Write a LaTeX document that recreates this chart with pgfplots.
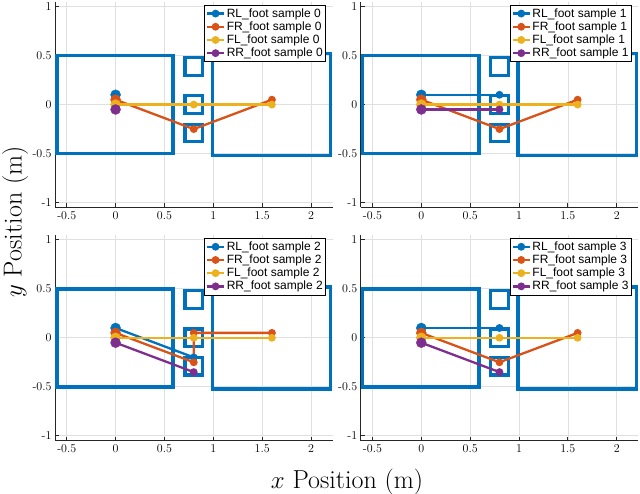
\documentclass[border=0pt]{standalone}
\usepackage{fontspec}
\usepackage{pgfplots}
\pgfplotsset{compat=1.18}
\newfontfamily\legfont{Liberation Sans}
\definecolor{mblue}{rgb}{0,0.447,0.741}
\definecolor{morange}{rgb}{0.85,0.325,0.098}
\definecolor{myellow}{rgb}{0.929,0.694,0.125}
\definecolor{mpurple}{rgb}{0.494,0.184,0.556}
\pgfplotsset{
  footaxis/.style={
    scale only axis, width=277.5pt, height=205.8pt,
    xmin=-0.62, xmax=2.22, ymin=-1.05, ymax=1.05,
    axis x line*=bottom, axis y line*=left,
    xtick={-0.5,0,0.5,1,1.5,2}, xticklabels={-0.5,0,0.5,1,1.5,2},
    ytick={-1,-0.5,0,0.5,1}, yticklabels={-1,-0.5,0,0.5,1},
    tick label style={font=\fontsize{12}{14}\selectfont, black},
    tick align=inside, major tick length=4pt,
    tick style={black!85, line width=0.8pt},
    axis line style={black!85, line width=0.8pt},
    grid=major, grid style={black!12, line width=0.6pt},
    legend cell align=left,
    legend style={at={(0.9755,0.986)}, anchor=north east, draw=black, line width=0.8pt,
      fill=white, font=\legfont\fontsize{12}{14}\selectfont,
      inner xsep=1pt, inner ysep=2pt, nodes={inner sep=1.5pt, text depth=0.15em}},
  },
  boxst/.style={mblue, line width=3.5pt, line cap=rect, line join=miter, mark=none, forget plot},
  footline/.style={line width=2.3pt, mark=*, mark size=2.7pt, mark options={solid}},
  startmark/.style={only marks, mark=*, mark size=5pt, forget plot},
}
\newcommand{\boxes}{%
  \addplot[boxst] coordinates {(-0.6,-0.5)(0.59,-0.5)(0.59,0.5)(-0.6,0.5)(-0.6,-0.5)};
  \addplot[boxst] coordinates {(0.99,-0.52)(2.2,-0.52)(2.2,0.52)(0.99,0.52)(0.99,-0.52)};
  \addplot[boxst, line width=3.2pt] coordinates {(0.71,0.30)(0.89,0.30)(0.89,0.48)(0.71,0.48)(0.71,0.30)};
  \addplot[boxst, line width=3.2pt] coordinates {(0.71,-0.09)(0.89,-0.09)(0.89,0.09)(0.71,0.09)(0.71,-0.09)};
  \addplot[boxst, line width=3.2pt] coordinates {(0.71,-0.38)(0.89,-0.38)(0.89,-0.20)(0.71,-0.20)(0.71,-0.38)};
}
\newcommand{\foot}[4]{%
  \addplot[footline, color=#1] coordinates {#2 #3};
  \addlegendentry{#4}
  \addplot[startmark, color=#1] coordinates {#2};
}
\begin{document}
\begin{tikzpicture}[x=1pt,y=1pt]
\path[use as bounding box] (0,0) rectangle (640,494);
% sample 0
\begin{axis}[footaxis, at={(55pt,286.5pt)}, anchor=south west]
\boxes
\foot{mblue}{(0,0.1)}{}{RL\_foot sample 0}
\foot{morange}{(0,0.05)}{(0.8,-0.25)(1.6,0.05)}{FR\_foot sample 0}
\foot{myellow}{(0,0)}{(0.8,0)(1.6,0)}{FL\_foot sample 0}
\foot{mpurple}{(0,-0.05)}{}{RR\_foot sample 0}
\end{axis}
% sample 1
\begin{axis}[footaxis, at={(360.7pt,286.5pt)}, anchor=south west]
\boxes
\foot{mblue}{(0,0.1)}{(0.8,0.1)}{RL\_foot sample 1}
\foot{morange}{(0,0.05)}{(0.8,-0.25)(1.6,0.05)}{FR\_foot sample 1}
\foot{myellow}{(0,0)}{(0.8,0)(1.6,0)}{FL\_foot sample 1}
\foot{mpurple}{(0,-0.05)}{(0.8,-0.05)}{RR\_foot sample 1}
\end{axis}
% sample 2
\begin{axis}[footaxis, at={(55pt,53.3pt)}, anchor=south west]
\boxes
\foot{mblue}{(0,0.1)}{(0.8,-0.2)}{RL\_foot sample 2}
\foot{morange}{(0,0.05)}{(0.8,-0.25)(0.8,0.05)(1.6,0.05)}{FR\_foot sample 2}
\foot{myellow}{(0,0)}{(0.8,0)(1.6,0)}{FL\_foot sample 2}
\foot{mpurple}{(0,-0.05)}{(0.8,-0.35)}{RR\_foot sample 2}
\end{axis}
% sample 3
\begin{axis}[footaxis, at={(360.7pt,53.3pt)}, anchor=south west]
\boxes
\foot{mblue}{(0,0.1)}{(0.8,0.1)}{RL\_foot sample 3}
\foot{morange}{(0,0.05)}{(0.8,-0.25)(1.6,0.05)}{FR\_foot sample 3}
\foot{myellow}{(0,0)}{(0.8,0)(1.6,0)}{FL\_foot sample 3}
\foot{mpurple}{(0,-0.05)}{(0.8,-0.35)}{RR\_foot sample 3}
\end{axis}
\node[anchor=base, font=\fontsize{26}{30}\selectfont] at (347,5.5) {$x$ Position (m)};
\node[rotate=90, anchor=base, font=\fontsize{26}{30}\selectfont] at (21.5,272) {$y$ Position (m)};
\end{tikzpicture}
\end{document}
